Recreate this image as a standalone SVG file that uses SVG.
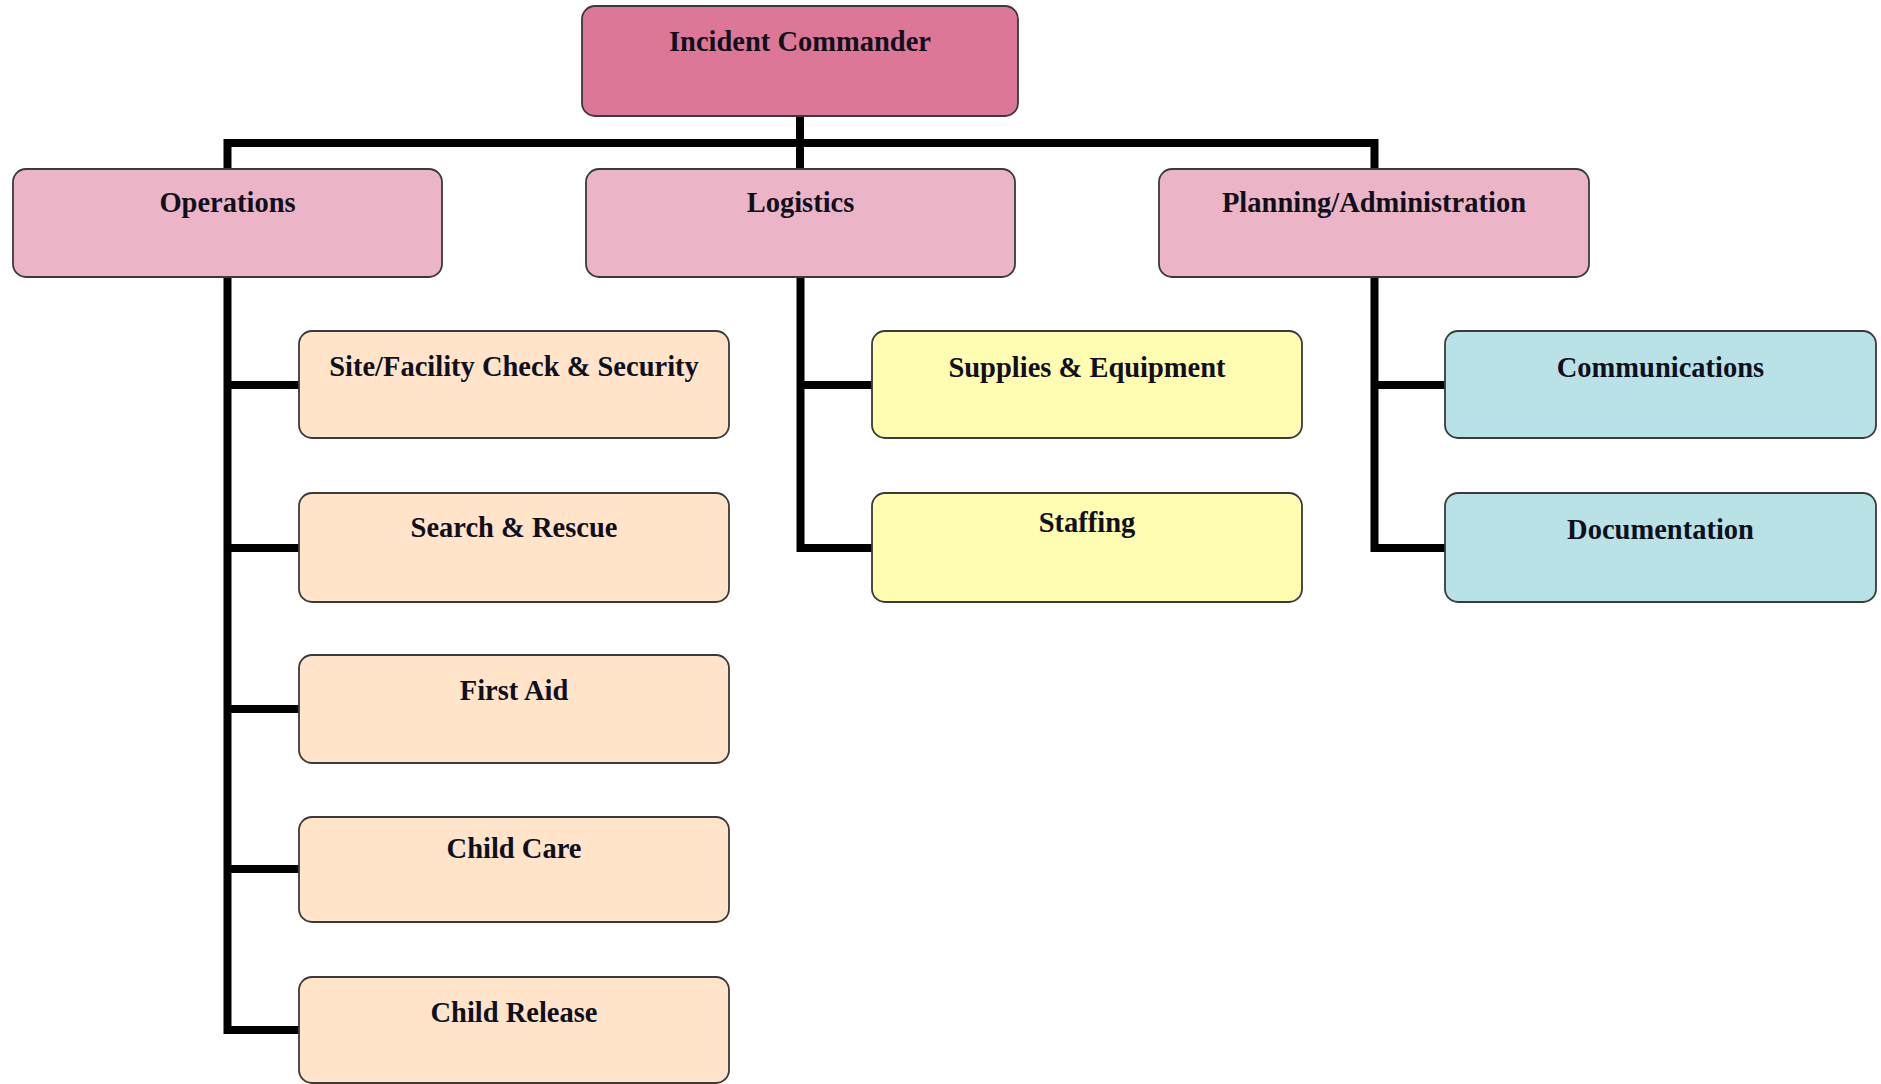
<svg xmlns="http://www.w3.org/2000/svg" width="1881" height="1084" viewBox="0 0 1881 1084">
<style>
.box{stroke:#3a3a3a;stroke-width:1.8}
.ic{fill:#DC7797}
.l2{fill:#EBB5C7}
.ops{fill:#FFE4CA}
.log{fill:#FFFDB2}
.pla{fill:#B8E2E6}
.lbl{font-family:"Liberation Serif","Times New Roman",serif;font-weight:bold;font-size:28.5px;fill:#10101c;text-anchor:middle}
.con{fill:none;stroke:#000;stroke-width:8;stroke-linejoin:miter;stroke-linecap:butt}
</style>
<rect width="1881" height="1084" fill="#fff"/>
<g id="connectors">
<path class="con" d="M800,116 V169"/>
<path class="con" d="M227.5,169 V143 H1374.5 V169"/>
<path class="con" d="M227.5,277 V1030 H299"/>
<path class="con" d="M227.5,385 H299"/>
<path class="con" d="M227.5,548 H299"/>
<path class="con" d="M227.5,709 H299"/>
<path class="con" d="M227.5,869 H299"/>
<path class="con" d="M800.5,277 V548 H872"/>
<path class="con" d="M800.5,385 H872"/>
<path class="con" d="M1374.5,277 V548 H1445"/>
<path class="con" d="M1374.5,385 H1445"/>
</g>
<g id="incident-commander"><rect class="box ic" x="582" y="6" width="436" height="110" rx="13"/><text class="lbl" x="800" y="51">Incident Commander</text></g>
<g id="operations"><rect class="box l2" x="13" y="169" width="429" height="108" rx="13"/><text class="lbl" x="227.5" y="212">Operations</text></g>
<g id="logistics"><rect class="box l2" x="586" y="169" width="429" height="108" rx="13"/><text class="lbl" x="800.5" y="212">Logistics</text></g>
<g id="planning"><rect class="box l2" x="1159" y="169" width="430" height="108" rx="13"/><text class="lbl" x="1374" y="212">Planning/Administration</text></g>
<g id="site-facility"><rect class="box ops" x="299" y="331" width="430" height="107" rx="13"/><text class="lbl" x="514" y="376">Site/Facility Check &amp; Security</text></g>
<g id="search-rescue"><rect class="box ops" x="299" y="493" width="430" height="109" rx="13"/><text class="lbl" x="514" y="537">Search &amp; Rescue</text></g>
<g id="first-aid"><rect class="box ops" x="299" y="655" width="430" height="108" rx="13"/><text class="lbl" x="514" y="700">First Aid</text></g>
<g id="child-care"><rect class="box ops" x="299" y="817" width="430" height="105" rx="13"/><text class="lbl" x="514" y="858">Child Care</text></g>
<g id="child-release"><rect class="box ops" x="299" y="977" width="430" height="106" rx="13"/><text class="lbl" x="514" y="1022">Child Release</text></g>
<g id="supplies-equipment"><rect class="box log" x="872" y="331" width="430" height="107" rx="13"/><text class="lbl" x="1087" y="377">Supplies &amp; Equipment</text></g>
<g id="staffing"><rect class="box log" x="872" y="493" width="430" height="109" rx="13"/><text class="lbl" x="1087" y="532">Staffing</text></g>
<g id="communications"><rect class="box pla" x="1445" y="331" width="431" height="107" rx="13"/><text class="lbl" x="1660.5" y="377">Communications</text></g>
<g id="documentation"><rect class="box pla" x="1445" y="493" width="431" height="109" rx="13"/><text class="lbl" x="1660.5" y="539">Documentation</text></g>
</svg>
